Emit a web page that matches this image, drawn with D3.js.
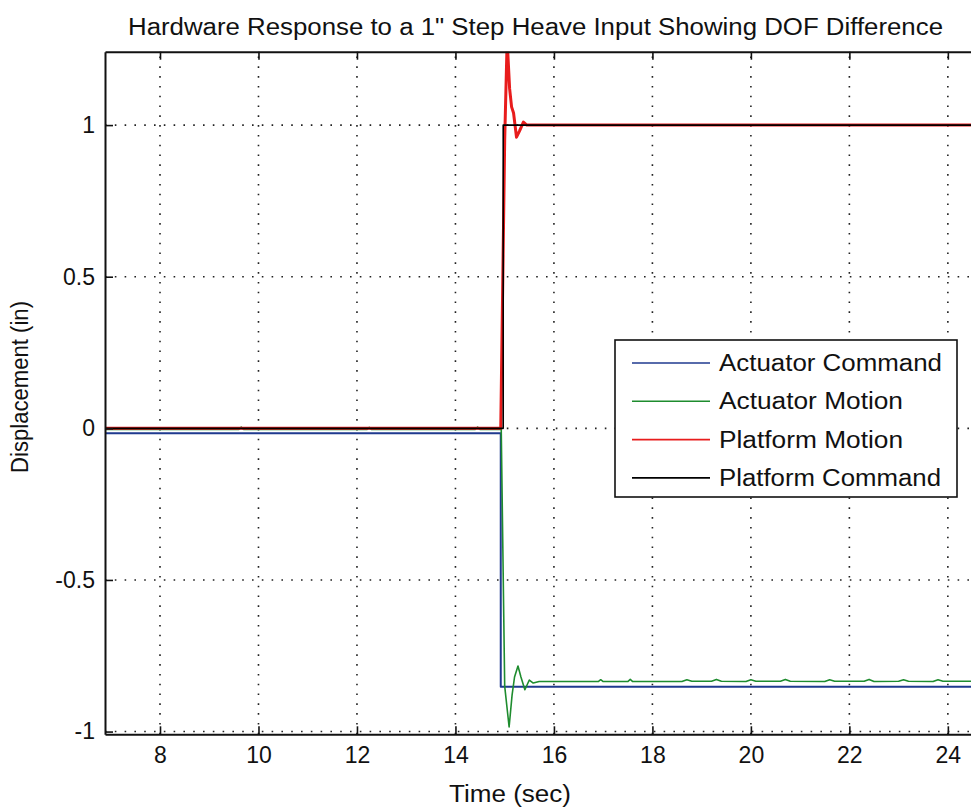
<!DOCTYPE html>
<html>
<head>
<meta charset="utf-8">
<script src="https://cdn.jsdelivr.net/npm/d3@7"></script>
<style>
  body { margin: 0; background: #fff; }
</style>
</head>
<body>
<div id="line-chart"></div>
<script>

/* DATA ********************************************************************************/

var titleText = 'Hardware Response to a 1" Step Heave Input Showing DOF Difference';
var xLabel = "Time (sec)";
var yLabel = "Displacement (in)";

var xTicks = [8, 10, 12, 14, 16, 18, 20, 22, 24];
var yTicks = [-1, -0.5, 0, 0.5, 1];
var yTickLabels = ["-1", "-0.5", "0", "0.5", "1"];

var seriesNames = ["Actuator Command", "Actuator Motion", "Platform Motion", "Platform Command"];

// Actuator Command (blue)
var actCmdTime  = [6.88, 14.92, 14.92, 24.6];
var actCmdValue = [-0.016, -0.016, -0.852, -0.852];

// Actuator Motion (green)
var actMotTime  = [6.88, 9.6, 9.65, 9.7, 12.2, 12.25, 12.3, 14.4, 14.45, 14.5, 14.93, 15.0, 15.09, 15.15, 15.2, 15.27, 15.33, 15.41, 15.5, 15.58, 15.7,
                   16.9, 16.95, 17.0, 17.5, 17.55, 17.6, 18.6, 18.7, 18.8, 19.2, 19.3, 19.4, 19.9, 20.0, 20.1, 20.6, 20.7, 20.8,
                   21.5, 21.6, 21.7, 22.3, 22.4, 22.5, 23.0, 23.1, 23.2, 23.7, 23.8, 23.9, 24.6];
var actMotValue = [-0.004, -0.004, 0.004, -0.004, -0.004, 0.003, -0.004, -0.004, 0.004, -0.004, -0.004, -0.85, -0.985, -0.88, -0.82, -0.784, -0.82, -0.862, -0.83, -0.84, -0.835,
                   -0.835, -0.829, -0.835, -0.835, -0.828, -0.835, -0.835, -0.829, -0.834, -0.834, -0.828, -0.834, -0.835, -0.829, -0.834, -0.834, -0.828, -0.834,
                   -0.835, -0.829, -0.834, -0.834, -0.828, -0.835, -0.834, -0.829, -0.834, -0.835, -0.829, -0.834, -0.834];

// Platform Motion (red)
var platMotTime  = [6.88, 14.92, 15.0, 15.05, 15.1, 15.14, 15.18, 15.24, 15.3, 15.38, 15.45, 24.6];
var platMotValue = [0, 0, 0.95, 1.28, 1.12, 1.06, 1.04, 0.96, 0.98, 1.01, 1.0, 1.0];

// Platform Command (black)
var platCmdTime  = [6.88, 14.97, 14.97, 24.6];
var platCmdValue = [0, 0, 1, 1];

var drawChart = function(){

    /* SETTINGS ****************************************************************************/

    var fontFamily = "'Liberation Sans', Arial, sans-serif";
    var fontSize = 23;
    var tickFontSize = 23;

    const width = 971;
    const height = 809;
    const plotLeft = 105;
    const plotRight = 971;
    const plotTop = 51.7;
    const plotBottom = 734.3;

    var colors = ["#1f3a8f", "#1e8c2e", "#e81c1c", "#000000"];
    var lineWidths = [2, 1.6, 3, 1.6];
    var legendTextLengths = [223, 184, 184, 222];

    /* SVG *********************************************************************************/

    var svg = d3.select('#line-chart')
        .append('svg')
        .attr("width", width)
        .attr("height", height)
        .style('background-color', '#fff');

    var x = d3.scaleLinear()
        .domain([6.883, 24.47])
        .range([plotLeft, plotRight]);
    var y = d3.scaleLinear()
        .domain([-1.009, 1.242])
        .range([plotBottom, plotTop]);

    svg.append("defs").append("clipPath")
        .attr("id", "plot-clip")
        .append("rect")
        .attr("x", plotLeft)
        .attr("y", plotTop)
        .attr("width", plotRight - plotLeft)
        .attr("height", plotBottom - plotTop);

    // Dotted grid
    var grid = svg.append("g")
        .attr("stroke", "#222")
        .attr("stroke-width", 1.6)
        .attr("stroke-dasharray", "1.6,8.2");
    grid.selectAll(".vgrid")
        .data(xTicks)
        .join("line")
        .attr("x1", d => x(d)).attr("x2", d => x(d))
        .attr("y1", plotBottom).attr("y2", plotTop);
    grid.selectAll(".hgrid")
        .data(yTicks)
        .join("line")
        .attr("y1", d => y(d)).attr("y2", d => y(d))
        .attr("x1", plotLeft).attr("x2", plotRight);

    // Series
    var series = [
        {name: seriesNames[0], t: actCmdTime,  v: actCmdValue},
        {name: seriesNames[1], t: actMotTime,  v: actMotValue},
        {name: seriesNames[2], t: platMotTime, v: platMotValue},
        {name: seriesNames[3], t: platCmdTime, v: platCmdValue}
    ];

    var line = d3.line()
        .x(d => x(d[0]))
        .y(d => y(d[1]));

    svg.append("g")
        .attr("clip-path", "url(#plot-clip)")
        .selectAll("path")
        .data(series)
        .join("path")
        .attr("d", s => line(d3.zip(s.t, s.v)))
        .attr("fill", "none")
        .attr("stroke", (s, i) => colors[i])
        .attr("stroke-width", (s, i) => lineWidths[i])
        .attr("stroke-linejoin", "round");

    // Axes (ticks point into the plot)
    var xAxis = svg.append("g")
        .attr("transform", `translate(0,${plotBottom})`)
        .call(d3.axisBottom(x).tickValues(xTicks).tickSizeInner(-8).tickSizeOuter(0).tickPadding(10));
    var xAxisTop = svg.append("g")
        .attr("transform", `translate(0,${plotTop})`)
        .call(d3.axisTop(x).tickValues(xTicks).tickSizeInner(-8).tickSizeOuter(0).tickFormat(""));
    var yAxis = svg.append("g")
        .attr("transform", `translate(${plotLeft},0)`)
        .call(d3.axisLeft(y).tickValues(yTicks).tickSizeInner(-8).tickSizeOuter(0).tickPadding(10)
            .tickFormat((d, i) => yTickLabels[i]));

    [xAxis, xAxisTop, yAxis].forEach(function(a){
        a.select(".domain").attr("stroke", "#111").attr("stroke-width", 2);
        a.selectAll(".tick line").attr("stroke", "#111").attr("stroke-width", 1.6);
        a.selectAll(".tick text")
            .attr("fill", "#111")
            .attr("font-family", fontFamily)
            .attr("font-size", tickFontSize);
    });
    xAxis.selectAll(".tick text").attr("dy", "0.8em");

    // Titles
    svg.append("text")
        .text(titleText)
        .attr("x", 128)
        .attr("y", 35)
        .attr("textLength", 815)
        .attr("lengthAdjust", "spacingAndGlyphs")
        .attr("font-family", fontFamily)
        .attr("font-size", fontSize)
        .attr("fill", "#111");

    svg.append("text")
        .text(xLabel)
        .attr("x", 510)
        .attr("y", 802)
        .attr("text-anchor", "middle")
        .attr("textLength", 122)
        .attr("lengthAdjust", "spacingAndGlyphs")
        .attr("font-family", fontFamily)
        .attr("font-size", fontSize)
        .attr("fill", "#111");

    svg.append("text")
        .text(yLabel)
        .attr("transform", `translate(28,${(plotTop + plotBottom) / 2 - 6}) rotate(-90)`)
        .attr("text-anchor", "middle")
        .attr("textLength", 172)
        .attr("lengthAdjust", "spacingAndGlyphs")
        .attr("font-family", fontFamily)
        .attr("font-size", fontSize)
        .attr("fill", "#111");

    // Legend
    var legend = svg.append("g");
    legend.append("rect")
        .attr("x", 615).attr("y", 340)
        .attr("width", 342).attr("height", 157)
        .attr("fill", "#fff")
        .attr("stroke", "#111")
        .attr("stroke-width", 1.6);

    var rows = legend.selectAll(".row")
        .data(series)
        .join("g")
        .attr("transform", (s, i) => `translate(0,${363 + i * 38.3})`);
    rows.append("line")
        .attr("x1", 632).attr("x2", 710)
        .attr("stroke", (s, i) => colors[i])
        .attr("stroke-width", 1.6);
    rows.append("text")
        .text(s => s.name)
        .attr("x", 719)
        .attr("y", 8)
        .attr("textLength", (s, i) => legendTextLengths[i])
        .attr("lengthAdjust", "spacingAndGlyphs")
        .attr("font-family", fontFamily)
        .attr("font-size", fontSize)
        .attr("fill", "#111");
}

window.addEventListener("load", drawChart)
</script>
</body>
</html>
